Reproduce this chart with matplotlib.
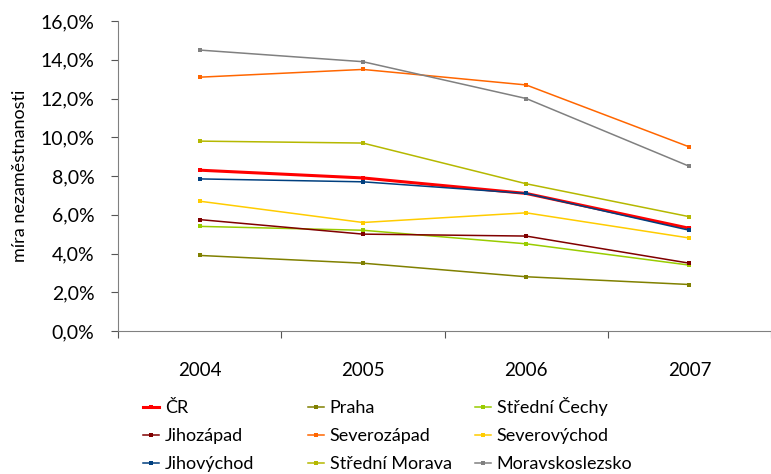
import matplotlib.pyplot as plt
from matplotlib.ticker import FuncFormatter, FixedLocator

years = ["2004", "2005", "2006", "2007"]

cr = [8.3, 7.9, 7.1, 5.3]
praha = [3.9, 3.5, 2.8, 2.4]
stredni_cechy = [5.4, 5.2, 4.5, 3.4]
jihozapad = [5.75, 5.0, 4.9, 3.5]
severozapad = [13.1, 13.5, 12.7, 9.5]
severovychod = [6.7, 5.6, 6.1, 4.8]
jihovychod = [7.85, 7.7, 7.1, 5.2]
stredni_morava = [9.8, 9.7, 7.6, 5.9]
moravskoslezsko = [14.5, 13.9, 12.0, 8.5]

series = [
    ("ČR", cr, "#FF0000", 2.2),
    ("Praha", praha, "#808000", 1.1),
    ("Střední Čechy", stredni_cechy, "#99CC00", 1.1),
    ("Jihozápad", jihozapad, "#800000", 1.1),
    ("Severozápad", severozapad, "#FF6600", 1.1),
    ("Severovýchod", severovychod, "#FFCC00", 1.1),
    ("Jihovýchod", jihovychod, "#003F7F", 1.1),
    ("Střední Morava", stredni_morava, "#B5B800", 1.1),
    ("Moravskoslezsko", moravskoslezsko, "#808080", 1.1),
]

plt.rcParams["font.family"] = ["Lato", "DejaVu Sans"]
FS = 13

fig = plt.figure(figsize=(7.71, 4.74), dpi=100)
ax = fig.add_axes([118 / 771, 1 - 331 / 474, 653 / 771, 310 / 474])

x = list(range(len(years)))
handles = []
for name, vals, color, lw in series:
    h, = ax.plot(x, vals, color=color, lw=lw, marker="s", markersize=3.2,
                 markeredgewidth=0, label=name)
    handles.append(h)

ax.set_xlim(-0.5, 3.5)
ax.set_ylim(0, 16)
ax.yaxis.set_major_locator(FixedLocator([0, 2, 4, 6, 8, 10, 12, 14, 16]))
ax.yaxis.set_major_formatter(FuncFormatter(lambda v, _: f"{v:.1f}%".replace(".", ",")))

# tick marks between categories, year labels centred on the categories
ax.set_xticks([-0.5, 0.5, 1.5, 2.5, 3.5])
ax.set_xticklabels([])
ax.set_xticks(x, minor=True)
ax.set_xticklabels(years, minor=True)
ax.tick_params(axis="x", which="minor", length=0, pad=22, labelsize=13.5)
ax.tick_params(axis="x", which="major", direction="out", length=5, color="#555555")
ax.tick_params(axis="y", direction="out", length=5, color="#555555", labelsize=14, pad=12)

for side in ["top", "right"]:
    ax.spines[side].set_visible(False)
for side in ["left", "bottom"]:
    ax.spines[side].set_color("#808080")

ax.set_ylabel("míra nezaměstnanosti", fontsize=FS, labelpad=9)

# legend: one entry per slot, anchored at the bottom so baselines line up
col_left = [143, 308, 475]
row_bottom = [416, 444, 472]
for i, h in enumerate(handles):
    r, c = divmod(i, 3)
    fig.legend(handles=[h], loc="lower left",
               bbox_to_anchor=(col_left[c] / 771, 1 - row_bottom[r] / 474),
               frameon=False, fontsize=FS, handlelength=0.9, handletextpad=0.3,
               borderpad=0, borderaxespad=0)

fig.savefig("out.png", dpi=100)
